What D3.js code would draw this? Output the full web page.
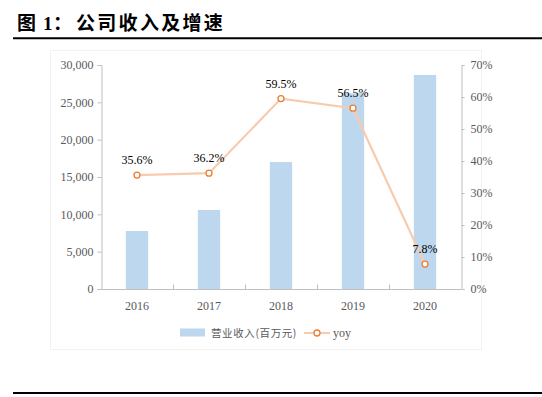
<!DOCTYPE html>
<html>
<head>
<meta charset="utf-8">
<script src="https://cdn.jsdelivr.net/npm/d3@7"></script>
<style>
html,body{margin:0;padding:0;background:#fff;}
svg{display:block;}
</style>
</head>
<body>
<svg id="c" width="542" height="397"></svg>
<script>
const years = ["2016", "2017", "2018", "2019", "2020"];
const revenue = [7770, 10580, 17000, 26210, 28660];
const yoy = [35.6, 36.2, 59.5, 56.5, 7.8];
const leftTicks = [0, 5000, 10000, 15000, 20000, 25000, 30000];
const rightTicks = [0, 10, 20, 30, 40, 50, 60, 70];
const legendLabels = ["营业收入(百万元)", "yoy"];

const svg = d3.select("#c");
const serif = "'Liberation Serif','Times New Roman',serif";
const cjk = "'Noto Sans CJK SC','Noto Sans',sans-serif";

// title
const t = svg.append("g").attr("font-weight", 700).attr("fill", "#000");
t.append("text").attr("x", 17).attr("y", 30).attr("font-family", cjk).attr("font-size", 19).text("图");
t.append("text").attr("x", 43).attr("y", 30).attr("font-family", serif).attr("font-size", 19).text("1");
t.append("text").attr("x", 53).attr("y", 30).attr("font-family", cjk).attr("font-size", 19).text("：");
t.append("text").attr("x", 76).attr("y", 30).attr("font-family", cjk).attr("font-size", 19)
  .attr("letter-spacing", 2.3).text("公司收入及增速");
svg.append("line").attr("x1", 13).attr("x2", 542).attr("y1", 38.3).attr("y2", 38.3)
  .attr("stroke", "#000").attr("stroke-width", 2);
svg.append("line").attr("x1", 13).attr("x2", 542).attr("y1", 393).attr("y2", 393)
  .attr("stroke", "#000").attr("stroke-width", 2);

// faint chart frame
svg.append("rect").attr("x", 50.5).attr("y", 50.5).attr("width", 431).attr("height", 299)
  .attr("fill", "none").attr("stroke", "#f2f2f2").attr("stroke-width", 1);

const x0 = 101, x1 = 461, yTop = 65, yBot = 289;
const x = d3.scaleBand().domain(years).range([x0, x1]).paddingInner(0.69).paddingOuter(0.345);
const yL = d3.scaleLinear().domain([0, 30000]).range([yBot, yTop]);
const yR = d3.scaleLinear().domain([0, 70]).range([yBot, yTop]);
const axisColor = "#bfbfbf";
const txtColor = "#595959";

// bars
svg.append("g").selectAll("rect").data(revenue).join("rect")
  .attr("x", (d, i) => x(years[i]))
  .attr("width", x.bandwidth())
  .attr("y", d => yL(d))
  .attr("height", d => yL(0) - yL(d))
  .attr("fill", "#bdd7ee");

// left axis
const gl = svg.append("g").attr("transform", `translate(${x0 + 0.5},0)`)
  .call(d3.axisLeft(yL).tickValues(leftTicks).tickFormat(d3.format(",")).tickSize(4).tickPadding(4));
gl.select(".domain").attr("stroke", axisColor);
gl.selectAll(".tick line").attr("stroke", axisColor);
gl.selectAll("text").attr("font-family", serif).attr("font-size", 12).attr("fill", txtColor);

// right axis
const gr = svg.append("g").attr("transform", `translate(${x1 + 0.5},0)`)
  .call(d3.axisRight(yR).tickValues(rightTicks).tickFormat(d => d + "%").tickSize(3).tickPadding(6));
gr.select(".domain").attr("stroke", axisColor);
gr.selectAll(".tick line").attr("stroke", axisColor);
gr.selectAll("text").attr("font-family", serif).attr("font-size", 12).attr("fill", txtColor);

// bottom axis
const gb = svg.append("g").attr("transform", `translate(0,${yBot + 0.5})`);
gb.append("line").attr("x1", x0).attr("x2", x1).attr("stroke", axisColor);
const step = x.step();
const bounds = d3.range(1, years.length).map(i => x(years[i]) - (step - x.bandwidth()) / 2);
gb.selectAll("line.tk").data(bounds).join("line").attr("class", "tk")
  .attr("x1", d => Math.round(d) + 0.5).attr("x2", d => Math.round(d) + 0.5)
  .attr("y1", 0).attr("y2", -5).attr("stroke", axisColor);
gb.selectAll("text").data(years).join("text")
  .attr("x", d => x(d) + x.bandwidth() / 2).attr("y", 20)
  .attr("text-anchor", "middle").attr("font-family", serif).attr("font-size", 12)
  .attr("fill", txtColor).text(d => d);

// line
const cx = (i) => x(years[i]) + x.bandwidth() / 2;
const line = d3.line().x((d, i) => cx(i)).y(d => yR(d));
svg.append("path").datum(yoy).attr("d", line).attr("fill", "none")
  .attr("stroke", "#f8cbad").attr("stroke-width", 2.2);
svg.append("g").selectAll("circle").data(yoy).join("circle")
  .attr("cx", (d, i) => cx(i)).attr("cy", d => yR(d)).attr("r", 3)
  .attr("fill", "#fff").attr("stroke", "#ed7d31").attr("stroke-width", 1.3);
svg.append("g").selectAll("text").data(yoy).join("text")
  .attr("x", (d, i) => cx(i)).attr("y", d => yR(d) - 11)
  .attr("text-anchor", "middle").attr("font-family", serif).attr("font-size", 12)
  .attr("fill", "#000").text(d => d.toFixed(1) + "%");

// legend
const lg = svg.append("g");
lg.append("rect").attr("x", 180).attr("y", 328.5).attr("width", 25).attr("height", 8).attr("fill", "#bdd7ee");
lg.append("text").attr("x", 211).attr("y", 337).attr("font-family", cjk).attr("font-size", 10.5)
  .attr("fill", txtColor).attr("letter-spacing", 0.6).text(legendLabels[0]);
lg.append("line").attr("x1", 304).attr("x2", 330).attr("y1", 333).attr("y2", 333)
  .attr("stroke", "#f8cbad").attr("stroke-width", 2);
lg.append("circle").attr("cx", 317).attr("cy", 333).attr("r", 3).attr("fill", "#fff")
  .attr("stroke", "#ed7d31").attr("stroke-width", 1.3);
lg.append("text").attr("x", 333).attr("y", 337).attr("font-family", serif).attr("font-size", 12)
  .attr("fill", txtColor).text(legendLabels[1]);
</script>
</body>
</html>
